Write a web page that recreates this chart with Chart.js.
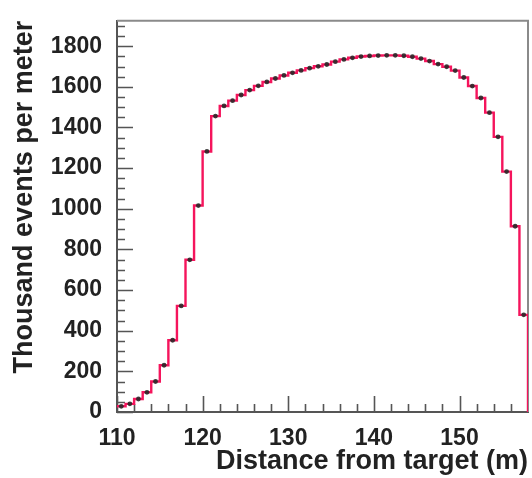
<!DOCTYPE html>
<html>
<head>
<meta charset="utf-8">
<script src="https://cdn.jsdelivr.net/npm/chart.js@4/dist/chart.umd.min.js"></script>
<style>
  html, body { margin: 0; padding: 0; background: #fff; }
  canvas { display: block; }
</style>
</head>
<body>
<canvas id="myChart" width="532" height="478"></canvas>
<script>
// 1 m bins, left edge of each bin
const binLeft = [110, 111, 112, 113, 114, 115, 116, 117, 118, 119,
                 120, 121, 122, 123, 124, 125, 126, 127, 128, 129,
                 130, 131, 132, 133, 134, 135, 136, 137, 138, 139,
                 140, 141, 142, 143, 144, 145, 146, 147, 148, 149,
                 150, 151, 152, 153, 154, 155, 156, 157];
// thousand events per meter in each bin
const eventos = [28, 40, 64, 97, 150, 230, 353, 522, 749, 1016,
                 1282, 1456, 1506, 1532, 1560, 1584, 1605, 1624, 1641, 1656,
                 1669, 1681, 1692, 1701, 1710, 1724, 1735, 1743, 1749, 1752,
                 1754, 1755, 1755, 1753, 1748, 1739, 1727, 1712, 1699, 1680,
                 1646, 1604, 1545, 1473, 1354, 1183, 914, 478];
const xFin = 158;
const yTope = 1925;

const xLabels = [110, 120, 130, 140, 150];
const yLabels = [0, 200, 400, 600, 800, 1000, 1200, 1400, 1600, 1800];
const xMenores = [112, 114, 116, 118, 122, 124, 126, 128, 132, 134, 136, 138,
                  142, 144, 146, 148, 152, 154, 156];
const yMenores = [50, 100, 150, 250, 300, 350, 450, 500, 550, 650, 700, 750,
                  850, 900, 950, 1050, 1100, 1150, 1250, 1300, 1350, 1450, 1500,
                  1550, 1650, 1700, 1750, 1850, 1900];

const chartDOM = document.querySelector("#myChart");

// histogram outline: left edges, then close down at the last edge
const escalones = binLeft.map((x, i) => ({ x: x, y: eventos[i] }));
escalones.push({ x: xFin, y: eventos[eventos.length - 1] });
escalones.push({ x: xFin, y: 0 });

const puntos = binLeft.map((x, i) => ({ x: x + 0.5, y: eventos[i] }));

// frame on top/right and inward tick marks
const marco = {
  id: "marco",
  beforeDatasetsDraw(chart) {
    const { ctx, chartArea: a } = chart;
    const sx = chart.scales.x, sy = chart.scales.y;
    ctx.save();
    ctx.strokeStyle = "#8a8a8a";
    ctx.lineWidth = 2;
    ctx.beginPath();
    ctx.moveTo(a.left, a.top);
    ctx.lineTo(a.right, a.top);
    ctx.lineTo(a.right, a.bottom);
    ctx.stroke();

    ctx.strokeStyle = "#555";
    ctx.lineWidth = 1.6;
    ctx.beginPath();
    xLabels.forEach(v => {
      const px = Math.round(sx.getPixelForValue(v)) + 0.5;
      ctx.moveTo(px, a.bottom); ctx.lineTo(px, a.bottom - 16);
    });
    xMenores.forEach(v => {
      const px = Math.round(sx.getPixelForValue(v)) + 0.5;
      ctx.moveTo(px, a.bottom); ctx.lineTo(px, a.bottom - 8);
    });
    yLabels.forEach(v => {
      const py = Math.round(sy.getPixelForValue(v)) + 0.5;
      ctx.moveTo(a.left, py); ctx.lineTo(a.left + 16, py);
    });
    yMenores.forEach(v => {
      const py = Math.round(sy.getPixelForValue(v)) + 0.5;
      ctx.moveTo(a.left, py); ctx.lineTo(a.left + 8, py);
    });
    ctx.stroke();
    ctx.restore();
  }
};

Chart.defaults.font.family = "'Liberation Sans', Arial, sans-serif";
Chart.defaults.color = "#222";

const myChart = new Chart(chartDOM, {
  type: "line",
  data: {
    datasets: [
      {
        type: "scatter",
        data: puntos,
        pointRadius: 2.4,
        pointBorderWidth: 0,
        pointBackgroundColor: "rgba(40,40,40,0.9)",
        showLine: false,
        order: 0
      },
      {
        data: escalones,
        stepped: "before",
        borderColor: "#f5145c",
        borderWidth: 2.4,
        pointRadius: 0,
        fill: false,
        order: 1
      }
    ]
  },
  options: {
    responsive: false,
    animation: false,
    devicePixelRatio: 1,
    layout: { padding: { top: 8, right: 3, left: 0, bottom: 0 } },
    plugins: { legend: { display: false }, tooltip: { enabled: false } },
    scales: {
      x: {
        type: "linear",
        min: binLeft[0],
        max: xFin,
        grid: { display: false },
        border: { display: true, color: "#555", width: 2 },
        afterBuildTicks: s => { s.ticks = xLabels.map(v => ({ value: v })); },
        afterFit: s => { s.height = 66; },
        ticks: {
          padding: 5, maxRotation: 0, color: "#222",
          font: { size: 23, weight: "bold" },
          callback: v => String(v)
        },
        title: {
          display: true,
          text: "Distance from target (m)",
          align: "end",
          color: "#222",
          font: { size: 27, weight: "bold" },
          padding: { top: 3, bottom: 0 }
        }
      },
      y: {
        min: 0,
        max: yTope,
        grid: { display: false },
        border: { display: true, color: "#555", width: 2 },
        afterBuildTicks: s => { s.ticks = yLabels.map(v => ({ value: v })); },
        afterFit: s => { s.width = 117; },
        ticks: {
          padding: 7, color: "#222",
          font: { size: 23, weight: "bold" },
          callback: v => String(v)
        },
        title: {
          display: true,
          text: "Thousand events per meter",
          align: "end",
          color: "#222",
          font: { size: 27, weight: "bold" },
          padding: { top: 8, bottom: 0 }
        }
      }
    }
  },
  plugins: [marco]
});
</script>
</body>
</html>
